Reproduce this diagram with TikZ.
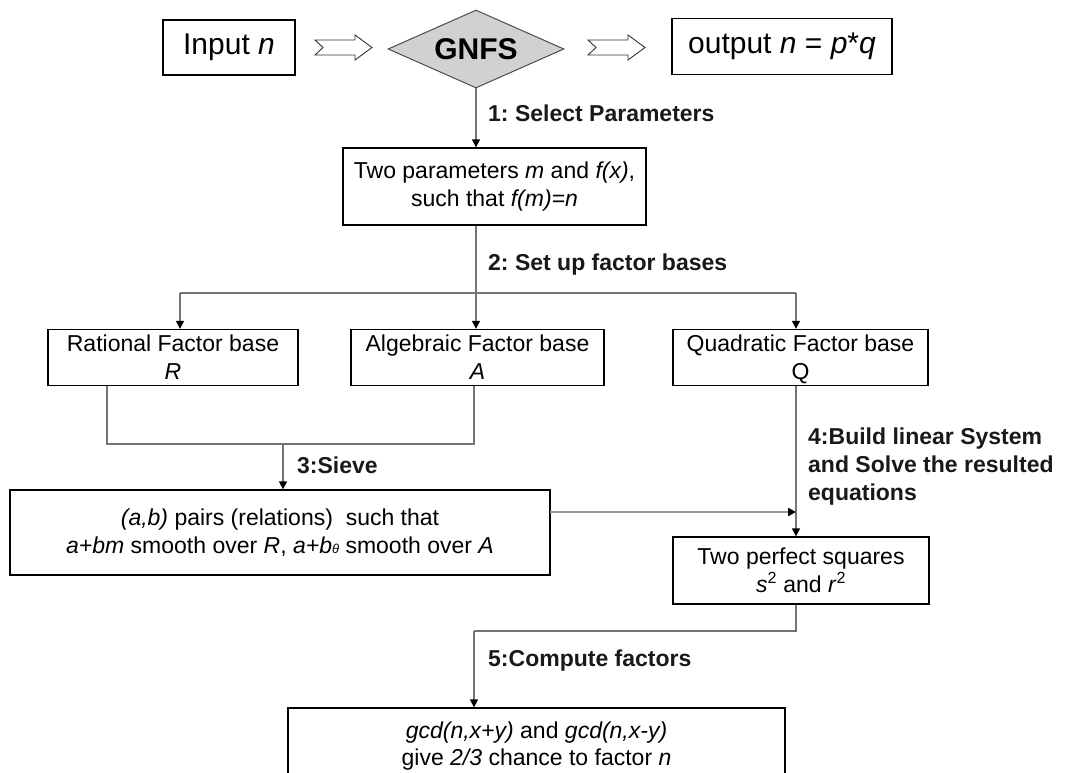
\documentclass[tikz,border=0pt]{standalone}
\usepackage{fontspec}
\setmainfont{Liberation Sans}
\usetikzlibrary{arrows.meta,shapes.geometric}

\newcommand{\normsz}{\fontsize{23}{28}\selectfont}
\newcommand{\bigsz}{\fontsize{30}{34}\selectfont}

\tikzset{
  box/.style={draw=black, line width=1.3pt, fill=white, inner sep=0pt,
              align=center, font=\normsz},
  bigbox/.style={box, font=\bigsz},
  link/.style={draw=black!55, line width=1.4pt},
  arr/.style={link, -{Triangle[length=8pt,width=8pt,color=black]}},
  steplabel/.style={anchor=west, inner sep=0pt, align=left,
                    font=\normsz\bfseries, text=black!90},
  hollow/.style={draw=black!80, line width=0.9pt, fill=white},
  pics/blockarrow/.style={code={
    \draw[hollow] (-28.5,-7.5) -- (11.5,-7.5) -- (11.5,-12.5) -- (28.5,0)
      -- (11.5,12.5) -- (11.5,7.5) -- (-28.5,7.5) -- (-20.5,0) -- cycle;
  }}
}

\begin{document}
\frenchspacing
\begin{tikzpicture}[x=1pt, y=-1pt]
\useasboundingbox (0,0) rectangle (1065,773);

% top row: input, method, output
\node[bigbox, minimum width=132pt, minimum height=55pt] (input) at (229,47.5) {Input \textit{n}};
\node[diamond, draw=black!70, line width=1pt, fill=black!18, aspect=2.26,
      minimum width=176pt, minimum height=78pt, inner sep=0pt,
      font=\bigsz\bfseries] (gnfs) at (476,49) {GNFS};
\node[bigbox, minimum width=220pt, minimum height=56pt] (output) at (782,46.5) {output \textit{n} = \textit{p}*\textit{q}};

\pic at (343.5,47.5) {blockarrow};
\pic at (616.5,47.5) {blockarrow};

% parameter selection
\node[box, minimum width=303pt, minimum height=77pt] (params) at (494.5,186.5)
  {Two parameters \textit{m} and \textit{f(x)},\\ such that \textit{f(m)=n}};

% factor bases
\node[box, minimum width=250pt, minimum height=56pt] (rational) at (173,357.5)
  {Rational Factor base\\ \textit{R}};
\node[box, minimum width=253pt, minimum height=56pt] (algebraic) at (477.5,357.5)
  {Algebraic Factor base\\ \textit{A}};
\node[box, minimum width=255pt, minimum height=56pt] (quadratic) at (800.5,357.5)
  {Quadratic Factor base\\ \raisebox{0pt}[\height][0pt]{Q}};

% sieving result
\node[box, minimum width=540pt, minimum height=85pt] (pairs) at (280,532.5)
  {\textit{(a,b)} pairs (relations)\ \ such that\\
   \textit{a+bm} smooth over \textit{R}, \textit{a+b}{\fontsize{13}{13}\selectfont\textit{θ}} smooth over \textit{A}};

% linear algebra result
\node[box, minimum width=256pt, minimum height=67pt] (squares) at (801,570.5)
  {Two perfect squares\\ \textit{s}\textsuperscript{2} and \textit{r}\textsuperscript{2}};

% final step
\node[box, minimum width=497pt, minimum height=76pt] (gcd) at (536.5,746)
  {\raisebox{10pt}{\begin{tabular}{@{}c@{}}\textit{gcd(n,x+y)} and \textit{gcd(n,x-y)}\\[-1pt] give \textit{2/3} chance to factor \textit{n}\end{tabular}}};

% branching points
\coordinate (stem) at (476,0);
\coordinate (split) at (476,293);
\coordinate (sl) at (180,293);
\coordinate (sr) at (796,293);
\coordinate (rfoot) at (107,444);
\coordinate (afoot) at (474,444);
\coordinate (sieve) at (283,444);
\coordinate (pairsout) at (550,512);
\coordinate (sqjoin) at (796,512);
\coordinate (sqfoot) at (796,631);
\coordinate (gcdin) at (474,631);

% connectors
\draw[arr] (gnfs.south) -- (stem |- params.north);
\node[steplabel] at (488,113) {1: Select Parameters};

\draw[link] (stem |- params.south) -- (split);
\node[steplabel] at (488,265) {2: Set up factor bases};
\draw[link] (sl) -- (sr);
\draw[arr] (sl) -- (sl |- rational.north);
\draw[arr] (split) -- (split |- algebraic.north);
\draw[arr] (sr) -- (sr |- quadratic.north);

\draw[link] (rfoot |- rational.south) -- (rfoot) -- (afoot) -- (afoot |- algebraic.south);
\draw[arr] (sieve) -- (sieve |- pairs.north);
\node[steplabel] at (297,465) {3:Sieve};

\draw[arr] (sr |- quadratic.south) -- (sr |- squares.north);
\node[steplabel] at (808,467) {4:Build linear System\\and Solve the resulted\\equations};
\draw[link, draw=black!40, line width=2pt,
      -{Triangle[length=8pt,width=8pt,color=black]}] (pairsout) -- (sqjoin);

\draw[link] (sr |- squares.south) -- (sqfoot) -- (gcdin);
\draw[arr] (gcdin) -- (gcdin |- gcd.north);
\node[steplabel] at (488,661) {5:Compute factors};

\end{tikzpicture}
\end{document}
